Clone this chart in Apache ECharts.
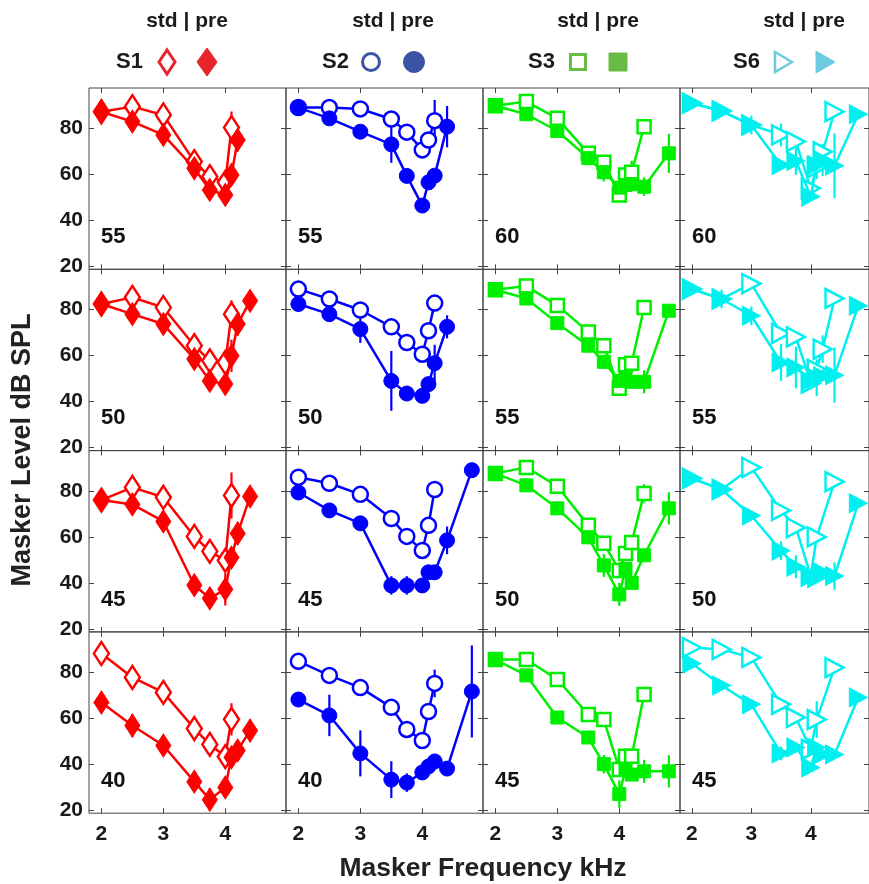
<!DOCTYPE html>
<html><head><meta charset="utf-8">
<script src="https://cdn.jsdelivr.net/npm/echarts@6/dist/echarts.min.js"></script>
<style>html,body{margin:0;padding:0;background:#fff}#c{width:869px;height:884px}</style>
</head><body><div id="c"></div>
<script>
// Masker frequencies (kHz), shared by all panels
const freqs = [2, 2.5, 3, 3.5, 3.75, 4, 4.1, 4.2, 4.4, 4.8];
const xTicks = [2, 3, 4];
const yTicks = [20, 40, 60, 80];
const subjects = ['S1', 'S2', 'S3', 'S6'];
const probeLevels = [[55, 50, 45, 40], [55, 50, 45, 40], [60, 55, 50, 45], [60, 55, 50, 45]];

// S1 (diamonds)
const S1_55_std = [87.2, 89.4, 85.8, 65.5, 59.0, 56.5, 80.3, null, null, null];
const S1_55_pre = [87.2, 82.9, 77.1, 62.6, 53.2, 51.0, 59.7, 74.9, null, null];
const S1_55_stdErr = [0, 0, 0, 0, 0, 0, 7, 0, 0, 0];
const S1_55_preErr = [0, 0, 4.5, 0, 0, 0, 0, 5, 0, 0];
const S1_50_std = [82.4, 85.3, 80.9, 64.3, 57.7, 57.0, 78.0, null, null, null];
const S1_50_pre = [82.4, 78.0, 73.7, 58.5, 49.0, 47.6, 59.9, 73.7, 83.8, null];
const S1_50_stdErr = [0, 0, 0, 0, 0, 0, 6, 0, 0, 0];
const S1_50_preErr = [0, 0, 0, 0, 0, 4, 7, 5, 0, 0];
const S1_45_std = [76.0, 81.5, 77.2, 60.2, 53.7, 49.8, 78.0, null, null, null];
const S1_45_pre = [76.0, 74.1, 66.7, 39.0, 33.3, 37.2, 51.0, 61.5, 77.6, null];
const S1_45_stdErr = [0, 0, 0, 0, 0, 0, 10, 0, 0, 0];
const S1_45_preErr = [0, 0, 3, 3, 0, 7, 0, 5, 0, 0];
const S1_40_std = [88.1, 77.7, 71.2, 55.5, 48.6, 43.3, 59.5, null, null, null];
const S1_40_pre = [66.8, 56.8, 48.1, 32.4, 24.6, 29.9, 43.0, 46.0, 54.6, null];
const S1_40_stdErr = [0, 0, 0, 0, 0, 0, 7, 0, 0, 0];
const S1_40_preErr = [4, 5, 4, 0, 5, 0, 0, 0, 5, 0];

// S2 (circles)
const S2_55_std = [89.0, 89.0, 88.4, 84.0, 78.3, 70.6, 74.9, 83.3, null, null];
const S2_55_pre = [89.0, 84.3, 78.5, 73.0, 59.3, 46.4, 56.5, 59.4, 80.7, null];
const S2_55_stdErr = [0, 0, 0, 0, 3, 0, 0, 9, 0, 0];
const S2_55_preErr = [0, 0, 0, 8, 0, 0, 0, 0, 9, 0];
const S2_50_std = [88.9, 84.6, 79.8, 72.5, 65.7, 60.6, 70.8, 82.8, null, null];
const S2_50_pre = [82.4, 78.0, 71.5, 49.0, 43.5, 42.5, 47.6, 56.7, 72.5, null];
const S2_50_stdErr = [0, 0, 0, 0, 3, 0, 0, 0, 0, 0];
const S2_50_preErr = [0, 0, 6, 13, 0, 0, 0, 8, 5, 0];
const S2_45_std = [85.9, 83.3, 78.5, 68.0, 60.2, 54.1, 65.0, 80.6, null, null];
const S2_45_pre = [79.3, 71.5, 65.9, 38.9, 38.9, 38.9, 44.6, 44.6, 58.5, 89.0];
const S2_45_stdErr = [0, 0, 0, 0, 0, 0, 0, 3, 0, 0];
const S2_45_preErr = [0, 3, 0, 4, 4, 0, 0, 0, 6, 0];
const S2_40_std = [84.7, 78.6, 73.3, 64.7, 55.1, 50.3, 62.9, 75.1, null, null];
const S2_40_pre = [68.1, 61.2, 44.7, 33.3, 32.0, 36.4, 39.0, 41.2, 38.1, 71.6];
const S2_40_stdErr = [0, 0, 0, 0, 0, 0, 0, 6, 0, 0];
const S2_40_preErr = [0, 9, 10, 8, 4, 0, 0, 0, 0, 20];

// S3 (squares)
const S3_60_std = [89.8, 91.6, 84.3, 69.1, 65.2, 51.0, 59.7, 60.9, 80.7, null];
const S3_60_pre = [89.8, 86.1, 78.8, 67.0, 60.9, 54.2, 55.4, 55.7, 54.6, 69.1];
const S3_60_stdErr = [0, 0, 0, 0, 3, 3, 0, 5, 3, 0];
const S3_60_preErr = [0, 0, 0, 3, 4, 0, 0, 0, 4, 8.5];
const S3_55_std = [88.6, 90.2, 81.8, 70.3, 64.3, 45.8, 56.0, 56.7, 80.9, null];
const S3_55_pre = [88.6, 84.8, 74.1, 64.3, 57.3, 49.0, 50.4, 48.6, 48.6, 79.5];
const S3_55_stdErr = [0, 0, 0, 0, 3, 0, 0, 3, 3, 0];
const S3_55_preErr = [0, 0, 0, 3, 3, 0, 0, 0, 5, 0];
const S3_50_std = [87.6, 90.2, 82.0, 65.0, 57.2, 45.4, 52.8, 57.6, 78.9, null];
const S3_50_pre = [87.6, 82.4, 72.4, 59.8, 47.6, 35.0, 46.0, 40.0, 52.0, 72.4];
const S3_50_stdErr = [0, 0, 0, 0, 0, 0, 0, 0, 4, 0];
const S3_50_preErr = [3, 0, 0, 0, 5, 5, 0, 0, 0, 7];
const S3_45_std = [85.5, 85.5, 76.8, 61.6, 59.4, 37.7, 43.4, 43.4, 70.3, null];
const S3_45_pre = [85.5, 78.6, 60.3, 51.6, 40.0, 27.0, 37.7, 35.5, 36.9, 36.9];
const S3_45_stdErr = [0, 0, 0, 0, 0, 0, 0, 0, 3, 0];
const S3_45_preErr = [0, 0, 0, 0, 4, 6, 0, 0, 5, 7];

// S6 (right-pointing triangles)
const S6_60_std = [90.9, 87.5, 81.4, 77.1, 74.2, 53.9, 62.9, 69.8, 87.2, null];
const S6_60_pre = [90.9, 87.5, 81.4, 64.0, 65.8, 50.3, 64.0, 66.2, 63.7, 86.1];
const S6_60_stdErr = [0, 0, 0, 5, 0, 0, 5, 0, 0, 0];
const S6_60_preErr = [0, 0, 4, 0, 6, 0, 0, 7, 14, 0];
const S6_55_std = [88.9, 84.6, 91.3, 69.6, 68.1, 48.0, 54.0, 62.8, 84.8, null];
const S6_55_pre = [88.9, 84.6, 77.3, 57.0, 54.8, 49.0, 50.4, 51.0, 51.5, 81.7];
const S6_55_stdErr = [0, 0, 0, 0, 0, 0, 0, 6, 0, 0];
const S6_55_preErr = [0, 4, 4, 8, 9, 0, 8, 0, 12, 0];
const S6_50_std = [85.4, 80.6, 90.2, 71.5, 64.0, 43.0, 60.0, null, 84.0, null];
const S6_50_pre = [85.4, 80.6, 69.3, 54.0, 47.0, 43.0, 42.0, 44.5, 43.0, 74.6];
const S6_50_stdErr = [0, 0, 0, 0, 0, 0, 0, 0, 0, 0];
const S6_50_preErr = [0, 0, 0, 4, 5, 0, 0, 0, 6, 0];
const S6_45_std = [90.7, 89.9, 86.4, 66.0, 60.3, 46.4, 59.4, null, 82.0, null];
const S6_45_pre = [83.8, 74.2, 66.0, 44.7, 47.3, 38.6, 47.3, 44.2, 44.2, 69.0];
const S6_45_stdErr = [0, 0, 0, 0, 0, 0, 8, 0, 0, 0];
const S6_45_preErr = [0, 0, 0, 3, 0, 0, 0, 0, 0, 0];

// panels[col][row] = [std, pre, stdErr, preErr]
const panels = [
  [[S1_55_std, S1_55_pre, S1_55_stdErr, S1_55_preErr], [S1_50_std, S1_50_pre, S1_50_stdErr, S1_50_preErr],
   [S1_45_std, S1_45_pre, S1_45_stdErr, S1_45_preErr], [S1_40_std, S1_40_pre, S1_40_stdErr, S1_40_preErr]],
  [[S2_55_std, S2_55_pre, S2_55_stdErr, S2_55_preErr], [S2_50_std, S2_50_pre, S2_50_stdErr, S2_50_preErr],
   [S2_45_std, S2_45_pre, S2_45_stdErr, S2_45_preErr], [S2_40_std, S2_40_pre, S2_40_stdErr, S2_40_preErr]],
  [[S3_60_std, S3_60_pre, S3_60_stdErr, S3_60_preErr], [S3_55_std, S3_55_pre, S3_55_stdErr, S3_55_preErr],
   [S3_50_std, S3_50_pre, S3_50_stdErr, S3_50_preErr], [S3_45_std, S3_45_pre, S3_45_stdErr, S3_45_preErr]],
  [[S6_60_std, S6_60_pre, S6_60_stdErr, S6_60_preErr], [S6_55_std, S6_55_pre, S6_55_stdErr, S6_55_preErr],
   [S6_50_std, S6_50_pre, S6_50_stdErr, S6_50_preErr], [S6_45_std, S6_45_pre, S6_45_stdErr, S6_45_preErr]]
];

const plotColors = ['#ff0000', '#0000ff', '#00ee00', '#00f0f0'];
const legendColors = ['#e8232a', '#3a53a4', '#68bc45', '#6ccbdf'];
const triPath = 'path://M0,0 L10,5 L0,10 Z';
const symbols = [
  { s: 'diamond', size: [15, 23] },
  { s: 'circle', size: 15 },
  { s: 'rect', size: 13 },
  { s: triPath, size: [18, 19] }
];

const FONT = 'Liberation Sans, Arial, Helvetica, sans-serif';
const GL = 89, GT = 88, GW = 197, GH = 181.3;
const XMIN = 1.8, XMAX = 4.98, YMIN = 18.7, YMAX = 97.5;

const grids = [], xAxes = [], yAxes = [], series = [], graphics = [];

for (let r = 0; r < 4; r++) {
  for (let c = 0; c < 4; c++) {
    const g = r * 4 + c;
    grids.push({ left: GL + c * GW, top: GT + r * GH, width: GW, height: GH,
      show: true, borderColor: '#444', borderWidth: 1, backgroundColor: 'transparent' });
    const tick = { show: true, inside: true, length: 5, lineStyle: { color: '#444', width: 1 } };
    xAxes.push({ gridIndex: g, type: 'value', min: XMIN, max: XMAX, position: 'bottom',
      axisLine: { show: false }, splitLine: { show: false },
      axisTick: Object.assign({ customValues: xTicks }, tick),
      axisLabel: { show: r === 3, customValues: xTicks, margin: 11, fontSize: 21, fontWeight: 'bold',
        color: '#1a1a1a', fontFamily: FONT } });
    xAxes.push({ gridIndex: g, type: 'value', min: XMIN, max: XMAX, position: 'top',
      axisLine: { show: false }, splitLine: { show: false },
      axisTick: Object.assign({ customValues: xTicks }, tick), axisLabel: { show: false } });
    yAxes.push({ gridIndex: g, type: 'value', min: YMIN, max: YMAX, position: 'left',
      axisLine: { show: false }, splitLine: { show: false },
      axisTick: Object.assign({ customValues: yTicks }, tick),
      axisLabel: { show: c === 0, customValues: yTicks, margin: 6, fontSize: 21, fontWeight: 'bold',
        color: '#1a1a1a', fontFamily: FONT } });
    yAxes.push({ gridIndex: g, type: 'value', min: YMIN, max: YMAX, position: 'right',
      axisLine: { show: false }, splitLine: { show: false },
      axisTick: Object.assign({ customValues: yTicks }, tick), axisLabel: { show: false } });

    const [std, pre, stdErr, preErr] = panels[c][r];
    const col = plotColors[c];
    const sym = symbols[c];
    const toPts = arr => freqs.map((f, i) => arr[i] == null ? null : [f, arr[i]]).filter(p => p);
    const toErr = (arr, err) => freqs.map((f, i) => (arr[i] != null && err[i] > 0) ? [f, arr[i], err[i]] : null).filter(p => p);
    const errSeries = (data) => ({
      type: 'custom', xAxisIndex: 2 * g, yAxisIndex: 2 * g, silent: true, clip: false, z: 1,
      renderItem: (params, api) => {
        const x = api.value(0), y = api.value(1), e = api.value(2);
        const p1 = api.coord([x, y - e]), p2 = api.coord([x, y + e]);
        return { type: 'line', shape: { x1: p1[0], y1: p1[1], x2: p2[0], y2: p2[1] },
          style: { stroke: col, lineWidth: 2.2 } };
      },
      data: data
    });
    series.push(errSeries(toErr(std, stdErr)));
    series.push(errSeries(toErr(pre, preErr)));
    series.push({ type: 'line', xAxisIndex: 2 * g, yAxisIndex: 2 * g, data: toPts(std), z: 2,
      symbol: sym.s, symbolSize: sym.size, showAllSymbol: true, clip: false, silent: true,
      lineStyle: { color: col, width: 2.5 },
      itemStyle: { color: '#ffffff', borderColor: col, borderWidth: 2.5 } });
    series.push({ type: 'line', xAxisIndex: 2 * g, yAxisIndex: 2 * g, data: toPts(pre), z: 3,
      symbol: sym.s, symbolSize: sym.size, showAllSymbol: true, clip: false, silent: true,
      lineStyle: { color: col, width: 2.5 },
      itemStyle: { color: col, borderColor: col, borderWidth: 1 } });

    graphics.push({ type: 'text', left: GL + c * GW + 12, top: GT + r * GH + 138, z: 10,
      style: { text: String(probeLevels[c][r]), fontSize: 22, fontWeight: 'bold', fill: '#111', fontFamily: FONT } });
  }
}

// header legend
const hdrStd = [187, 393, 598, 804];
const hdrLbl = [116, 322, 528, 733];
const hdrOpen = [167, 371, 578, 783];
const hdrFill = [207, 414, 618, 825];
for (let c = 0; c < 4; c++) {
  const lc = legendColors[c];
  graphics.push({ type: 'text', x: hdrStd[c], y: 21, z: 10,
    style: { text: 'std | pre', fontSize: 21, fontWeight: 'bold', fill: '#1a1a1a', fontFamily: FONT,
      align: 'center', verticalAlign: 'middle' } });
  graphics.push({ type: 'text', x: hdrLbl[c], y: 62, z: 10,
    style: { text: subjects[c], fontSize: 22, fontWeight: 'bold', fill: '#1a1a1a', fontFamily: FONT,
      align: 'left', verticalAlign: 'middle' } });
  const ox = hdrOpen[c], fx = hdrFill[c], y = 62;
  const openStyle = { fill: '#fff', stroke: lc, lineWidth: 3 };
  const fillStyle = { fill: lc, stroke: lc, lineWidth: 1 };
  if (c === 0) {
    graphics.push({ type: 'polygon', shape: { points: [[ox, y - 12], [ox + 8, y], [ox, y + 12], [ox - 8, y]] }, style: openStyle, z: 10 });
    graphics.push({ type: 'polygon', shape: { points: [[fx, y - 14], [fx + 10, y], [fx, y + 14], [fx - 10, y]] }, style: fillStyle, z: 10 });
  } else if (c === 1) {
    graphics.push({ type: 'circle', shape: { cx: ox, cy: y, r: 8.5 }, style: openStyle, z: 10 });
    graphics.push({ type: 'circle', shape: { cx: fx, cy: y, r: 10.5 }, style: fillStyle, z: 10 });
  } else if (c === 2) {
    graphics.push({ type: 'rect', shape: { x: ox - 7.5, y: y - 7.5, width: 15, height: 15 }, style: openStyle, z: 10 });
    graphics.push({ type: 'rect', shape: { x: fx - 9, y: y - 9, width: 18, height: 18 }, style: fillStyle, z: 10 });
  } else {
    graphics.push({ type: 'polygon', shape: { points: [[ox - 8, y - 10], [ox + 9, y], [ox - 8, y + 10]] }, style: { fill: '#fff', stroke: lc, lineWidth: 2.5 }, z: 10 });
    graphics.push({ type: 'polygon', shape: { points: [[fx - 9, y - 11], [fx + 10, y], [fx - 9, y + 11]] }, style: fillStyle, z: 10 });
  }
}
// axis titles
graphics.push({ type: 'text', x: 483, y: 869, z: 10,
  style: { text: 'Masker Frequency kHz', fontSize: 26.5, fontWeight: 'bold', fill: '#222', fontFamily: FONT,
    align: 'center', verticalAlign: 'middle' } });
graphics.push({ type: 'text', x: 23, y: 450, rotation: Math.PI / 2, z: 10,
  style: { text: 'Masker Level dB SPL', fontSize: 27, fontWeight: 'bold', fill: '#222', fontFamily: FONT,
    align: 'center', verticalAlign: 'middle' } });

const chart = echarts.init(document.getElementById('c'), null, { renderer: 'canvas' });
chart.setOption({
  animation: false,
  backgroundColor: '#ffffff',
  grid: grids, xAxis: xAxes, yAxis: yAxes, series: series, graphic: graphics
});
</script></body></html>
